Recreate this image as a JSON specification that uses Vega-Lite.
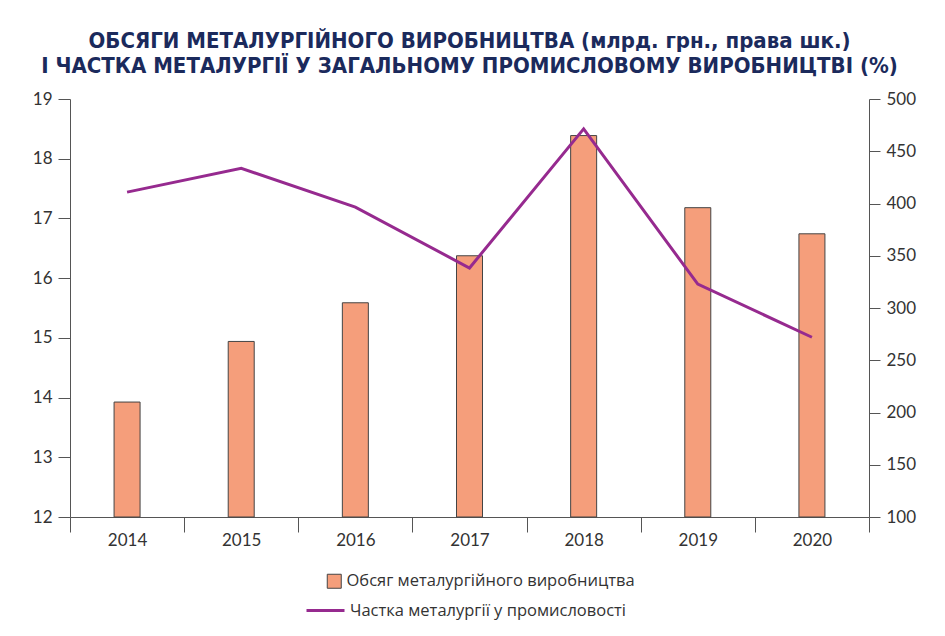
{
  "$schema": "https://vega.github.io/schema/vega-lite/v6.json",
  "autosize": "none",
  "width": 799,
  "height": 418,
  "padding": {"left": 70, "top": 99, "right": 76, "bottom": 119},
  "background": "white",
  "title": {
    "text": ["ОБСЯГИ МЕТАЛУРГІЙНОГО ВИРОБНИЦТВА (млрд. грн., права шк.)", "І ЧАСТКА МЕТАЛУРГІЇ У ЗАГАЛЬНОМУ ПРОМИСЛОВОМУ ВИРОБНИЦТВІ (%)"],
    "font": "DejaVu Sans Condensed, Roboto",
    "fontSize": 22,
    "fontWeight": "bold",
    "color": "#1b2a5c",
    "anchor": "middle",
    "lineHeight": 25,
    "offset": 12
  },
  "data": {
    "values": [
      {"year": "2014", "volume": 210, "share": 17.44},
      {"year": "2015", "volume": 268, "share": 17.84},
      {"year": "2016", "volume": 305, "share": 17.19},
      {"year": "2017", "volume": 350, "share": 16.17},
      {"year": "2018", "volume": 465, "share": 18.5},
      {"year": "2019", "volume": 396, "share": 15.9},
      {"year": "2020", "volume": 371, "share": 15.01}
    ]
  },
  "config": {
    "view": {"stroke": null},
    "axis": {
      "labelFont": "Lato",
      "labelFontSize": 17,
      "labelColor": "#333333",
      "domainColor": "#555555",
      "tickColor": "#555555",
      "grid": false,
      "title": null
    },
    "legend": {
      "labelFont": "Open Sans",
      "labelFontSize": 16.5,
      "labelColor": "#333333",
      "labelLimit": 500
    }
  },
  "encoding": {
    "x": {
      "field": "year",
      "type": "nominal",
      "scale": {"paddingInner": 0, "paddingOuter": 0},
      "axis": {"labelAngle": 0, "tickBand": "extent", "tickSize": 15, "labelPadding": 0, "title": null}
    }
  },
  "layer": [
    {
      "mark": {"type": "bar", "width": 26, "stroke": "#444444", "strokeWidth": 1},
      "encoding": {
        "y": {
          "field": "volume",
          "type": "quantitative",
          "scale": {"domain": [100, 500], "nice": false, "zero": false},
          "axis": {"orient": "right", "values": [100, 150, 200, 250, 300, 350, 400, 450, 500], "tickSize": 11, "labelPadding": 6}
        },
        "y2": {"datum": 100},
        "fill": {
          "datum": "Обсяг металургійного виробництва",
          "scale": {"range": ["#f59e7b"]},
          "legend": {"title": null, "orient": "none", "legendX": 256, "legendY": 474, "symbolType": "square", "symbolSize": 196, "symbolStrokeColor": "#444444", "symbolStrokeWidth": 1}
        }
      }
    },
    {
      "mark": {"type": "line", "strokeWidth": 3},
      "encoding": {
        "y": {
          "field": "share",
          "type": "quantitative",
          "scale": {"domain": [12, 19], "nice": false, "zero": false},
          "axis": {"orient": "left", "values": [12, 13, 14, 15, 16, 17, 18, 19], "tickSize": 12, "labelPadding": 6}
        },
        "stroke": {
          "datum": "Частка металургії у промисловості",
          "scale": {"range": ["#962a8f"]},
          "legend": {"title": null, "orient": "none", "legendX": 235, "legendY": 491, "symbolType": "stroke", "symbolSize": 1444, "symbolStrokeWidth": 3}
        }
      }
    }
  ],
  "resolve": {"scale": {"y": "independent"}}
}
